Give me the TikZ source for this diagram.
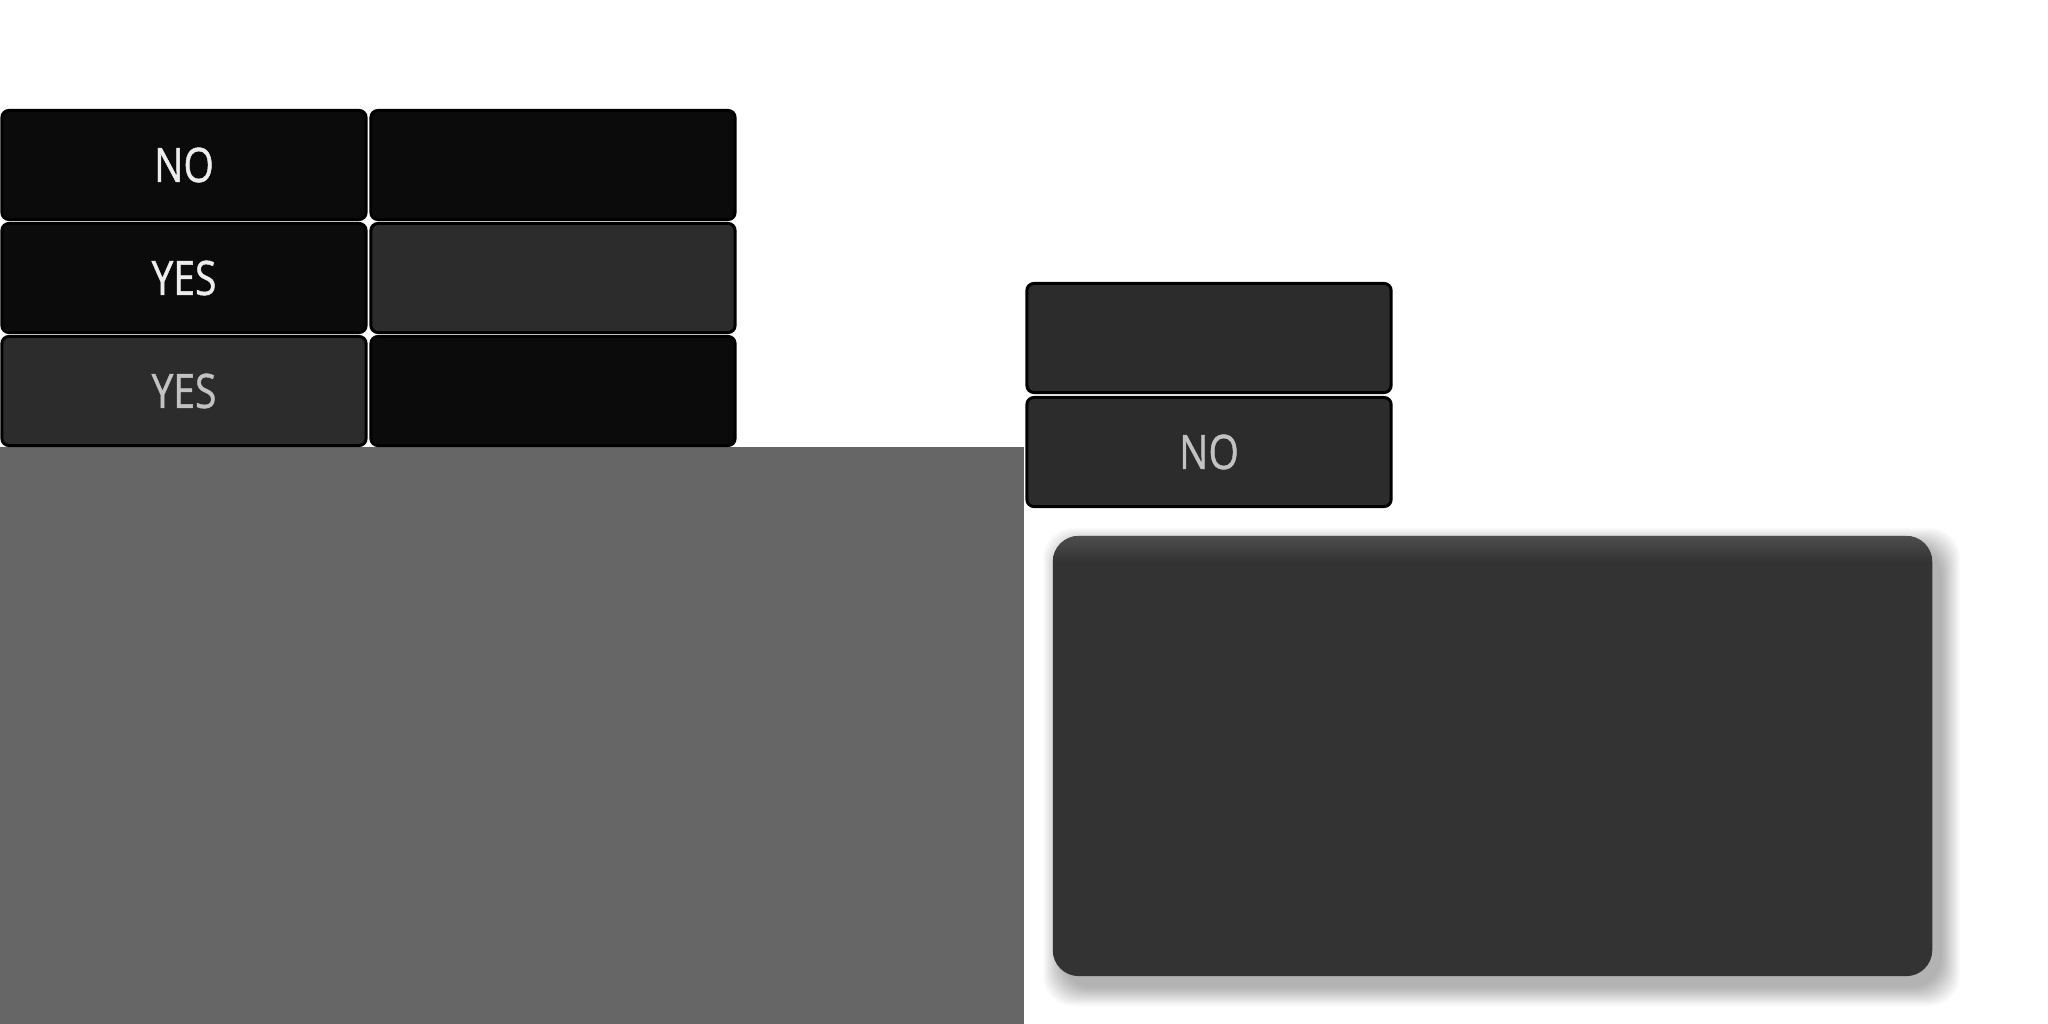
\documentclass[tikz,border=0pt]{standalone}
\usepackage{fontspec}
\setmainfont{Open Sans}[FakeStretch=0.82, FakeBold=0.9]
\definecolor{cellblack}{HTML}{0B0B0B}
\definecolor{cellgray}{HTML}{2C2C2C}
\definecolor{panelgray}{HTML}{666666}
\definecolor{cardgray}{HTML}{333333}
\tikzset{
	cell/.style={draw=black, line width=0.03cm, rounded corners=0.07cm, minimum width=3.64cm, minimum height=1.09cm, inner sep=0pt, font=\fontsize{13.5}{16}\selectfont},
	darkcell/.style={cell, fill=cellblack, text=white!93!black},
	greycell/.style={cell, fill=cellgray, text=white!76!black},
}
\begin{document}
\begin{tikzpicture}[x=0.01cm, y=-0.01cm]
		%%%%% START %%%%%
		
		\useasboundingbox[fill=white] (0, 0) rectangle (2048, 1024);
		
		\fill[panelgray] (0, 447) rectangle (1024, 1024);
		
		\node[darkcell] (noA) at (184, 165) {NO};
		\node[darkcell] (blankA) at (553, 165) {};
		\node[darkcell] (yesA) at (184, 278) {YES};
		\node[greycell] (blankB) at (553, 278) {};
		\node[greycell] (yesB) at (184, 391) {YES};
		\node[darkcell] (blankC) at (553, 391) {};
		
		\node[greycell] (blankD) at (1209, 338) {};
		\node[greycell] (noB) at (1209, 452) {NO};
		
		% soft shadow of the card
		\foreach \i in {1,...,20}
			\fill[black, opacity=0.014, rounded corners=0.3cm] (1053+10-\i, 536+12-\i) rectangle (1932+8+\i, 976+10+\i);
		
		\node[fill=cardgray, rounded corners=0.26cm, minimum width=8.79cm, minimum height=4.4cm] (card) at (1492.5, 756) {};
		\begin{scope}
			\clip[rounded corners=0.26cm] (1053, 536) rectangle (1932, 976);
			\shade[top color=white!13!cardgray, bottom color=cardgray] (1053, 536) rectangle (1932, 562);
		\end{scope}
		
		%%%%% END %%%%%
	\end{tikzpicture}
\end{document}
